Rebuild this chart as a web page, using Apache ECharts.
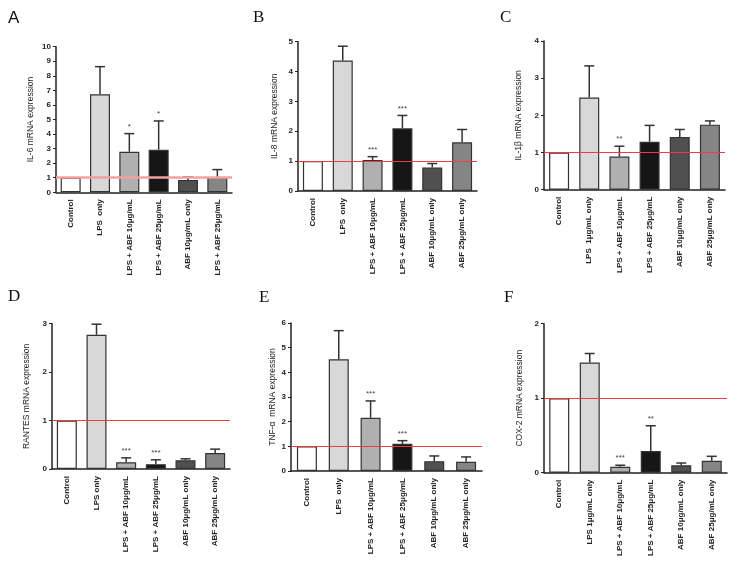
<!DOCTYPE html>
<html>
<head>
<meta charset="utf-8">
<script src="https://cdn.jsdelivr.net/npm/echarts@6/dist/echarts.min.js"></script>
<style>html,body{margin:0;padding:0;background:#fff}#c{width:745px;height:562px}</style>
</head>
<body>
<div id="c"></div>
<script>
// ---- data ----
const catsA = ['Control', 'LPS  only', 'LPS + ABF 10μg/mL', 'LPS + ABF 25μg/mL', 'ABF 10μg/mL only', 'LPS + ABF 25μg/mL'];
const catsB = ['Control', 'LPS  only', 'LPS + ABF 10μg/mL', 'LPS + ABF 25μg/mL', 'ABF 10μg/mL only', 'ABF 25μg/mL only'];
const catsC = ['Control', 'LPS  1μg/mL only', 'LPS + ABF 10μg/mL', 'LPS + ABF 25μg/mL', 'ABF 10μg/mL only', 'ABF 25μg/mL only'];
const catsD = ['Control', 'LPS only', 'LPS + ABF 10μg/mL', 'LPS + ABF 25μg/mL', 'ABF 10μg/mL only', 'ABF 25μg/mL only'];
const catsE = ['Control', 'LPS  only', 'LPS + ABF 10μg/mL', 'LPS + ABF 25μg/mL', 'ABF 10μg/mL only', 'ABF 25μg/mL only'];
const catsF = ['Control', 'LPS 1μg/mL only', 'LPS + ABF 10μg/mL', 'LPS + ABF 25μg/mL', 'ABF 10μg/mL only', 'ABF 25μg/mL only'];

const meanA = [1, 6.73, 2.79, 2.93, 0.85, 1.05];
const semA  = [0, 1.90, 1.24, 1.97, 0.20, 0.51];
const meanB = [1, 4.37, 1.04, 2.10, 0.79, 1.63];
const semB  = [0, 0.48, 0.11, 0.43, 0.13, 0.43];
const meanC = [1, 2.48, 0.89, 1.29, 1.42, 1.75];
const semC  = [0, 0.85, 0.28, 0.44, 0.20, 0.10];
const meanD = [1, 2.77, 0.14, 0.10, 0.18, 0.33];
const semD  = [0, 0.22, 0.09, 0.09, 0.03, 0.08];
const meanE = [1, 4.53, 2.16, 1.10, 0.40, 0.37];
const semE  = [0, 1.16, 0.68, 0.13, 0.21, 0.20];
const meanF = [1, 1.48, 0.08, 0.29, 0.10, 0.16];
const semF  = [0, 0.12, 0.02, 0.34, 0.03, 0.06];

const starsA = ['', '', '*', '*', '', ''];
const starsB = ['', '', '***', '***', '', ''];
const starsC = ['', '', '**', '', '', ''];
const starsD = ['', '', '***', '***', '', ''];
const starsE = ['', '', '***', '***', '', ''];
const starsF = ['', '', '***', '**', '', ''];

const yTitles = ['IL-6 mRNA expression', 'IL-8 mRNA expression', 'IL-1β mRNA expression',
                 'RANTES mRNA expression', 'TNF-α  mRNA expression', 'COX-2 mRNA expression'];
const yMax = [10, 5, 4, 3, 6, 2];
const panelLetters = ['A', 'B', 'C', 'D', 'E', 'F'];

// ---- layout / style ----
const barColors = ['#ffffff', '#d8d8d8', '#b0b0b0', '#161616', '#505050', '#858585'];
const grids = [
  {left: 56,  top: 46.7,  width: 176, height: 145.6},
  {left: 298, top: 41.7,  width: 179, height: 149.3},
  {left: 544, top: 41,    width: 181, height: 148.7},
  {left: 52,  top: 323.7, width: 178, height: 145.3},
  {left: 291, top: 323,   width: 191, height: 148},
  {left: 544, top: 323.7, width: 183, height: 149}
];
const nameGaps = [21, 19, 21, 21, 13, 20];
const letterPos = [
  {x: 8, y: 10, font: 'Liberation Sans'},
  {x: 253, y: 9, font: 'Liberation Serif'},
  {x: 500, y: 9, font: 'Liberation Serif'},
  {x: 8, y: 288, font: 'Liberation Serif'},
  {x: 259, y: 289, font: 'Liberation Serif'},
  {x: 504, y: 289, font: 'Liberation Serif'}
];
const refColors = ['#f3a0a0', '#f03c3c', '#f03c3c', '#f03c3c', '#f03c3c', '#f03c3c'];
const refWidths = [2.5, 1.2, 1.2, 1.2, 1.2, 1.2];

const cats = [catsA, catsB, catsC, catsD, catsE, catsF];
const means = [meanA, meanB, meanC, meanD, meanE, meanF];
const sems = [semA, semB, semC, semD, semE, semF];
const stars = [starsA, starsB, starsC, starsD, starsE, starsF];

const FONT = 'Liberation Sans';
const option = {
  animation: false,
  backgroundColor: '#ffffff',
  grid: grids.map(g => Object.assign({containLabel: false}, g)),
  xAxis: cats.map((c, i) => ({
    type: 'category', gridIndex: i, data: c,
    axisLine: {lineStyle: {color: '#222', width: 1.5}},
    axisTick: {alignWithLabel: true, length: 4, lineStyle: {color: '#222', width: 1}},
    axisLabel: {rotate: 90, interval: 0, fontSize: 8, fontWeight: 'bold', color: '#222', fontFamily: FONT, margin: 7}
  })),
  yAxis: yMax.map((m, i) => ({
    type: 'value', gridIndex: i, min: 0, max: m, interval: 1,
    name: yTitles[i], nameLocation: 'middle', nameGap: nameGaps[i],
    nameTextStyle: {fontSize: 8.5, color: '#222', fontFamily: FONT},
    splitLine: {show: false},
    axisLine: {show: true, lineStyle: {color: '#222', width: 1.5}},
    axisTick: {show: true, length: 3, lineStyle: {color: '#222', width: 1}},
    axisLabel: {fontSize: 8, fontWeight: 'bold', color: '#222', fontFamily: FONT, margin: 5}
  })),
  graphic: panelLetters.map((L, i) => ({
    type: 'text', x: letterPos[i].x, y: letterPos[i].y,
    style: {text: L, fontSize: 17, fontFamily: letterPos[i].font, fill: '#111'}
  })),
  series: []
};

for (let i = 0; i < 6; i++) {
  option.series.push({
    type: 'bar', xAxisIndex: i, yAxisIndex: i, barWidth: 20,
    data: means[i].map((v, k) => ({value: v, itemStyle: {color: barColors[k], borderColor: '#333', borderWidth: 1.2}})),
    markLine: {
      silent: true, symbol: 'none', label: {show: false},
      lineStyle: {color: refColors[i], width: refWidths[i], type: 'solid', opacity: 1},
      data: [{yAxis: 1}]
    },
    z: 2
  });
  option.series.push({
    type: 'custom', xAxisIndex: i, yAxisIndex: i, z: 3,
    data: means[i].map((v, k) => [k, v, v + sems[i][k]]),
    renderItem: function (params, api) {
      const k = api.value(0);
      const base = api.coord([k, api.value(1)]);
      const top = api.coord([k, api.value(2)]);
      const star = stars[i][k];
      const children = [];
      if (api.value(2) > api.value(1)) {
        children.push({type: 'line', shape: {x1: base[0], y1: base[1], x2: top[0], y2: top[1]},
          style: {stroke: '#333', lineWidth: 1.5}});
        children.push({type: 'line', shape: {x1: top[0] - 5, y1: top[1], x2: top[0] + 5, y2: top[1]},
          style: {stroke: '#333', lineWidth: 1.5}});
      }
      if (star) {
        children.push({type: 'text', x: top[0], y: top[1] - 3,
          style: {text: star, fontSize: 8, fontFamily: FONT, fill: '#444', align: 'center', verticalAlign: 'bottom'}});
      }
      return {type: 'group', children: children};
    }
  });
}

const chart = echarts.init(document.getElementById('c'), null, {renderer: 'canvas'});
chart.setOption(option);
</script>
</body>
</html>
